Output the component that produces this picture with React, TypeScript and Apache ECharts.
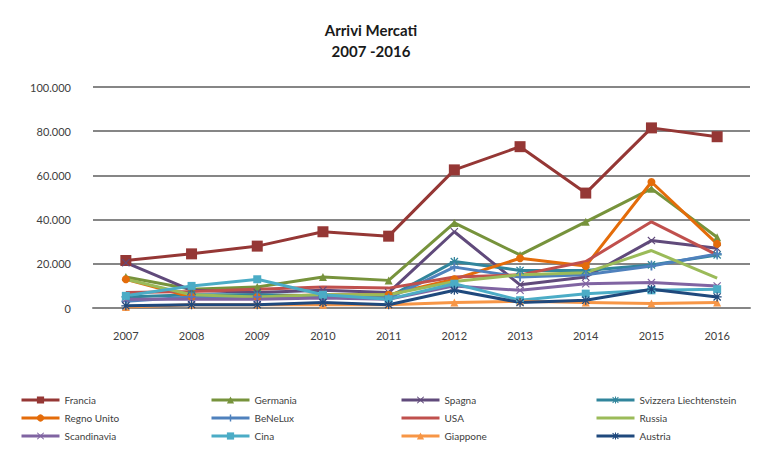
import React, { useEffect, useRef } from "react";
import * as echarts from "echarts";

const years = ["2007", "2008", "2009", "2010", "2011", "2012", "2013", "2014", "2015", "2016"];
const yTicks = [0, 20000, 40000, 60000, 80000, 100000];

const francia = [21500, 24500, 28000, 34500, 32500, 62500, 73000, 52000, 81500, 77500];
const germania = [14000, 8500, 9500, 14000, 12500, 38500, 24000, 39000, 54000, 32000];
const spagna = [20500, 8000, 7000, 8000, 7000, 34500, 10500, 14000, 30500, 27000];
const svizzera = [5000, 6000, 6000, 5500, 5000, 21000, 17000, 17000, 19500, 24000];
const regnoUnito = [13000, 5000, 5000, 6000, 6000, 13000, 22500, 19000, 57000, 29000];
const benelux = [3000, 5000, 5000, 5000, 4500, 18500, 14000, 15000, 19000, 24500];
const usa = [7000, 7500, 8500, 9500, 9000, 14000, 15000, 21000, 39000, 24000];
const russia = [13000, 6000, 5000, 6000, 6000, 12000, 15000, 16000, 26000, 13500];
const scandinavia = [4000, 4000, 4000, 4500, 4000, 10000, 8000, 11000, 11500, 10000];
const cina = [5500, 10000, 13000, 6000, 4000, 11000, 3500, 6500, 8000, 8500];
const giappone = [500, 1500, 1500, 1500, 1500, 2500, 3000, 2500, 2000, 2500];
const austria = [1000, 1500, 1500, 2500, 1500, 8000, 2500, 3500, 8500, 5000];

const X_SYM = "path://M0,1L1,0L5,4L9,0L10,1L6,5L10,9L9,10L5,6L1,10L0,9L4,5Z";
const PLUS_SYM = "path://M4,0H6V4H10V6H6V10H4V6H0V4H4Z";
const STAR_SYM =
  "path://M4.3,0H5.7V10H4.3Z M0,4.3H10V5.7H0Z M0.5,1.5L1.5,0.5L9.5,8.5L8.5,9.5Z M8.5,0.5L9.5,1.5L1.5,9.5L0.5,8.5Z";

const seriesDefs = [
  { name: "Francia", data: francia, color: "#953735", symbol: "rect", size: 11 },
  { name: "Germania", data: germania, color: "#77933c", symbol: "triangle", size: 8 },
  { name: "Spagna", data: spagna, color: "#604a7b", symbol: X_SYM, size: 8 },
  { name: "Svizzera Liechtenstein", data: svizzera, color: "#31859c", symbol: STAR_SYM, size: 9 },
  { name: "Regno Unito", data: regnoUnito, color: "#e46c0a", symbol: "circle", size: 8 },
  { name: "BeNeLux", data: benelux, color: "#4f81bd", symbol: PLUS_SYM, size: 9 },
  { name: "USA", data: usa, color: "#c0504d", symbol: "none", size: 8 },
  { name: "Russia", data: russia, color: "#9bbb59", symbol: "none", size: 8 },
  { name: "Scandinavia", data: scandinavia, color: "#8064a2", symbol: X_SYM, size: 8 },
  { name: "Cina", data: cina, color: "#4bacc6", symbol: "rect", size: 8 },
  { name: "Giappone", data: giappone, color: "#f79646", symbol: "triangle", size: 8 },
  { name: "Austria", data: austria, color: "#1f497d", symbol: STAR_SYM, size: 9 },
];

const legendColumns = [
  ["Francia", "Regno Unito", "Scandinavia"],
  ["Germania", "BeNeLux", "Cina"],
  ["Spagna", "USA", "Giappone"],
  ["Svizzera Liechtenstein", "Russia", "Austria"],
];
const legendLefts = [20, 210, 400, 595];
const noMarker = ["USA", "Russia"];

const FONT = "Lato, 'Open Sans', sans-serif";

export default function App() {
  const ref = useRef<HTMLDivElement>(null);

  useEffect(() => {
    if (!ref.current) return;
    const chart = echarts.init(ref.current, undefined, { renderer: "svg" });
    const fmt = (v: number) => String(v).replace(/\B(?=(\d{3})+(?!\d))/g, ".");
    chart.setOption({
      animation: false,
      backgroundColor: "#ffffff",
      textStyle: { fontFamily: FONT },
      graphic: [
        {
          type: "text",
          x: 371,
          y: 22,
          style: { text: "Arrivi Mercati", textAlign: "center", fill: "#1a1a1a", font: `bold 15px ${FONT}` },
        },
        {
          type: "text",
          x: 371,
          y: 43,
          style: { text: "2007 -2016", textAlign: "center", fill: "#1a1a1a", font: `bold 15px ${FONT}` },
        },
      ],
      grid: { left: 93, right: 26, top: 87, bottom: 144, containLabel: false },
      legend: legendColumns.map((col, i) => ({
        orient: "vertical",
        left: legendLefts[i],
        top: 395,
        padding: 0,
        itemGap: 8,
        itemWidth: 38,
        itemHeight: 9,
        data: col.map((n) => (noMarker.includes(n) ? { name: n, itemStyle: { opacity: 0 } } : n)),
        lineStyle: { width: 3 },
        textStyle: { fontSize: 10, color: "#404040", fontFamily: FONT },
      })),
      xAxis: {
        type: "category",
        data: years,
        boundaryGap: true,
        axisLine: { show: true, lineStyle: { color: "#868686", width: 2 } },
        axisTick: { show: false },
        axisLabel: { fontSize: 11, color: "#404040", margin: 22, fontFamily: FONT },
      },
      yAxis: {
        type: "value",
        min: yTicks[0],
        max: yTicks[yTicks.length - 1],
        interval: 20000,
        axisLine: { show: false },
        axisTick: { show: false },
        splitLine: { show: true, lineStyle: { color: "#868686", width: 2 } },
        axisLabel: { fontSize: 11, color: "#404040", margin: 22, formatter: fmt, fontFamily: FONT },
      },
      series: seriesDefs.map((s) => ({
        name: s.name,
        type: "line",
        data: s.data,
        symbol: s.symbol,
        symbolSize: s.size,
        showAllSymbol: true,
        lineStyle: { color: s.color, width: 3 },
        itemStyle: { color: s.color },
        emphasis: { disabled: true },
      })),
    });
    return () => chart.dispose();
  }, []);

  return (
    <div
      ref={ref}
      style={{ position: "fixed", left: 0, top: 0, width: 776, height: 452, background: "#fff" }}
    />
  );
}
